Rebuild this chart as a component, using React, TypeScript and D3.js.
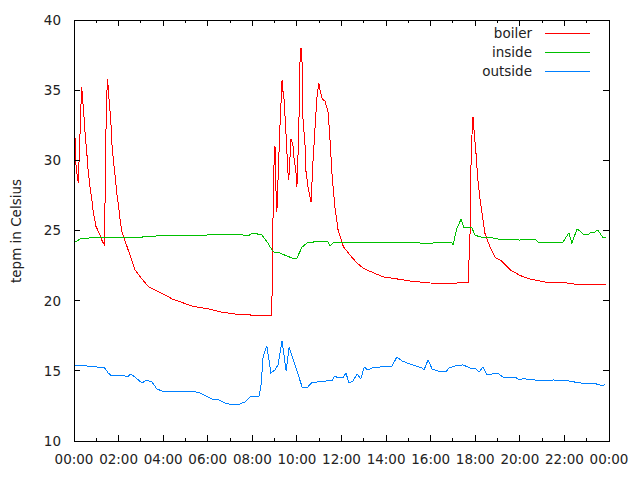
import React from "react";
import * as d3 from "d3";

const boilerTimes = ["00:00","00:03","00:05","00:09","00:12","00:13","00:16","00:19","00:21","00:22","00:25","00:30","00:34","00:38","00:43","00:48","00:52","00:59","01:08","01:15","01:21","01:23","01:25","01:27","01:30","01:32","01:35","01:39","01:42","01:46","01:51","01:55","02:00","02:04","02:08","02:17","02:26","02:35","02:44","02:58","03:20","03:51","04:26","05:20","06:06","06:33","07:13","07:54","08:26","08:52","08:53","08:56","08:58","09:01","09:04","09:06","09:14","09:20","09:22","09:25","09:30","09:36","09:38","09:44","09:49","09:52","09:57","10:00","10:05","10:08","10:11","10:14","10:16","10:22","10:24","10:30","10:38","10:43","10:49","10:54","10:59","11:02","11:08","11:16","11:24","11:29","11:35","11:43","11:51","12:05","12:23","12:41","12:59","13:25","13:52","14:29","15:04","15:58","16:44","17:11","17:41","17:43","17:46","17:48","17:51","17:54","17:56","18:02","18:07","18:13","18:21","18:26","18:40","18:53","19:12","19:34","20:00","20:27","21:08","22:07","22:42","23:52"];
const boilerValues = [31.7,31.6,29.8,28.8,28.4,29.5,31.7,34.1,35.2,34.7,33.8,31.9,30.7,29.3,28.1,27.2,26.3,25.3,24.8,24.3,24.0,26.0,30.0,33.8,35.8,35.2,34.1,32.9,31.2,30.0,28.8,27.7,26.7,25.8,25.0,24.3,23.6,22.9,22.2,21.7,21.0,20.6,20.1,19.6,19.4,19.2,19.05,18.98,18.91,18.91,20.4,26.5,29.5,31.0,27.5,26.3,32.2,35.7,35.0,34.5,32.2,29.1,28.6,31.5,31.2,30.2,29.3,28.1,32.0,36.9,38.0,36.9,33.1,31.0,29.3,28.1,27.0,29.8,32.4,34.5,35.5,35.0,34.4,34.2,33.4,31.5,28.8,26.5,25.0,23.85,23.25,22.7,22.3,22.0,21.7,21.55,21.4,21.26,21.2,21.26,21.26,22.7,24.8,29.1,31.7,33.1,32.4,30.5,28.6,27.2,25.75,24.8,23.8,23.1,22.8,22.2,21.8,21.55,21.33,21.26,21.12,21.12];

const insideTimes = ["00:00","00:05","00:16","00:43","01:37","02:31","03:06","03:43","04:37","05:20","05:58","06:25","06:52","07:35","07:48","08:02","08:26","08:40","08:53","09:01","09:14","09:33","09:47","10:00","10:14","10:30","10:41","10:49","11:02","11:10","11:24","11:29","11:37","12:04","13:44","15:31","15:50","16:06","16:57","17:00","17:11","17:22","17:30","17:51","17:59","18:13","18:48","19:01","20:00","20:41","20:49","21:29","21:56","22:12","22:20","22:34","22:42","22:50","23:01","23:14","23:22","23:30","23:44","23:52"];
const insideValues = [24.25,24.18,24.39,24.47,24.47,24.47,24.54,24.61,24.61,24.61,24.68,24.75,24.68,24.68,24.61,24.82,24.68,24.18,23.61,23.4,23.4,23.18,23.04,23.04,23.82,24.18,24.11,24.25,24.18,24.25,24.18,23.9,24.11,24.18,24.18,24.11,24.04,24.11,24.11,23.97,25.18,25.82,25.18,25.18,24.68,24.54,24.47,24.39,24.32,24.39,24.18,24.18,24.18,24.82,24.11,25.11,24.96,24.75,24.68,24.89,24.89,25.04,24.47,24.47];

const outsideTimes = ["00:00","00:08","00:24","00:35","00:51","01:02","01:10","01:21","01:32","01:42","01:56","02:12","02:23","02:33","02:44","03:03","03:14","03:30","03:43","03:57","04:26","04:40","05:04","05:20","05:39","06:11","06:30","06:46","07:08","07:27","07:40","07:54","08:18","08:23","08:29","08:39","08:50","09:01","09:09","09:20","09:31","09:39","09:49","10:14","10:27","10:41","10:54","11:21","11:34","11:42","11:51","12:04","12:12","12:20","12:31","12:42","12:52","13:01","13:11","13:22","13:44","13:57","14:16","14:29","14:43","15:04","15:37","15:42","15:53","16:04","16:20","16:41","16:49","17:05","17:27","17:46","17:59","18:10","18:21","18:32","18:45","18:59","19:15","19:34","19:47","20:00","20:11","20:22","20:35","20:46","21:27","21:29","22:10","22:28","23:03","23:17","23:36","23:44","23:49"];
const outsideValues = [15.42,15.34,15.42,15.34,15.34,15.27,15.2,15.27,14.85,14.63,14.7,14.7,14.56,14.77,14.56,14.13,14.35,14.2,13.71,13.56,13.49,13.56,13.49,13.56,13.42,12.99,12.92,12.71,12.57,12.64,12.78,13.14,13.21,13.85,15.99,16.77,14.85,15.06,15.42,17.13,14.99,16.7,15.91,13.85,13.78,14.2,14.2,14.28,14.28,14.63,14.49,14.49,14.85,14.13,14.28,14.77,14.42,15.27,15.06,15.2,15.27,15.34,15.34,15.99,15.7,15.49,15.2,15.06,15.77,15.13,14.99,14.92,15.2,15.34,15.42,15.2,15.2,14.92,15.27,14.7,14.77,14.85,14.56,14.49,14.56,14.35,14.49,14.35,14.42,14.28,14.28,14.35,14.28,14.2,14.06,14.13,13.99,13.92,14.06];

const seriesNames = ["boiler", "inside", "outside"];
const seriesColors = ["#ff0000", "#00c000", "#0080ff"];
const yTicks = [10, 15, 20, 25, 30, 35, 40];
const xMajorTicks = [0, 120, 240, 360, 480, 600, 720, 840, 960, 1080, 1200, 1320, 1440];
const xMinorTicks = [60, 180, 300, 420, 540, 660, 780, 900, 1020, 1140, 1260, 1380];
const yLabel = "tepm in Celsius";

const toMin = (s: string) => {
  const [h, m] = s.split(":").map(Number);
  return h * 60 + m;
};
const fmt = (m: number) => {
  const h = Math.floor(m / 60) % 24;
  const mm = m % 60;
  return `${String(h).padStart(2, "0")}:${String(mm).padStart(2, "0")}`;
};

const W = 640, H = 480;
const L = 74, R = 609, T = 20, B = 441;
const FONT = "'DejaVu Sans', sans-serif";

export default function App() {
  const x = d3.scaleLinear().domain([0, 1440]).range([L, R]);
  const y = d3.scaleLinear().domain([10, 40]).range([B, T]);
  const line = d3
    .line<[number, number]>()
    .x((d) => x(d[0]))
    .y((d) => y(d[1]));

  const series = [
    boilerTimes.map((t, i) => [toMin(t), boilerValues[i]] as [number, number]),
    insideTimes.map((t, i) => [toMin(t), insideValues[i]] as [number, number]),
    outsideTimes.map((t, i) => [toMin(t), outsideValues[i]] as [number, number]),
  ];

  const major = 6, minor = 3;

  return (
    <svg
      width={W}
      height={H}
      style={{ position: "absolute", left: 0, top: 0, background: "#fff" }}
      fontFamily={FONT}
    >
      <rect x={0} y={0} width={W} height={H} fill="#fff" />
      {series.map((s, i) => (
        <path
          key={i}
          d={line(s) || ""}
          fill="none"
          stroke={seriesColors[i]}
          strokeWidth={1}
          shapeRendering="crispEdges"
        />
      ))}
      <g stroke="#000" strokeWidth={1} shapeRendering="crispEdges">
        {yTicks.map((v) => (
          <g key={v}>
            <line x1={L} x2={L + major} y1={y(v)} y2={y(v)} />
            <line x1={R} x2={R - major} y1={y(v)} y2={y(v)} />
          </g>
        ))}
        {xMajorTicks.map((v) => (
          <g key={v}>
            <line x1={x(v)} x2={x(v)} y1={B} y2={B - major} />
            <line x1={x(v)} x2={x(v)} y1={T} y2={T + major} />
          </g>
        ))}
        {xMinorTicks.map((v) => (
          <g key={v}>
            <line x1={x(v)} x2={x(v)} y1={B} y2={B - minor} />
            <line x1={x(v)} x2={x(v)} y1={T} y2={T + minor} />
          </g>
        ))}
        <rect x={L} y={T} width={R - L} height={B - T} fill="none" />
      </g>
      <g fontSize={13.5} fill="#222">
        {yTicks.map((v) => (
          <text key={v} x={61} y={y(v)} dy="0.36em" textAnchor="end">
            {v}
          </text>
        ))}
        {xMajorTicks.map((v) => (
          <text key={v} x={x(v)} y={464} textAnchor="middle">
            {fmt(v)}
          </text>
        ))}
        <text
          transform={`translate(21,231) rotate(-90)`}
          textAnchor="middle"
        >
          {yLabel}
        </text>
        {seriesNames.map((n, i) => (
          <g key={n}>
            <text x={532} y={37.5 + i * 19} textAnchor="end">
              {n}
            </text>
            <line
              x1={545}
              x2={590}
              y1={33.5 + i * 19}
              y2={33.5 + i * 19}
              stroke={seriesColors[i]}
              strokeWidth={1}
              shapeRendering="crispEdges"
            />
          </g>
        ))}
      </g>
    </svg>
  );
}
